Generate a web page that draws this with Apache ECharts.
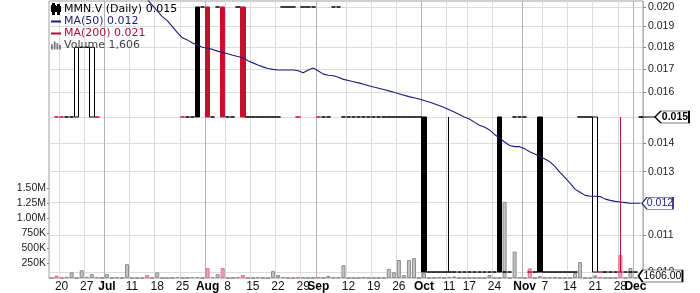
<!DOCTYPE html>
<html><head><meta charset="utf-8">
<script src="https://cdn.jsdelivr.net/npm/echarts@6/dist/echarts.min.js"></script>
<style>html,body{margin:0;padding:0;background:#fff}#c{width:700px;height:293px}</style>
</head><body><div id="c"></div>
<script>
// ---- trading days (TSX-V, 2011) ----
const startDate = '2011-06-16', endDate = '2011-12-02';
const holidays = ['2011-07-01','2011-08-01','2011-09-05','2011-10-10'];
// ---- axis labels ----
const xLabelDays = {'2011-06-20':'20','2011-06-27':'27','2011-07-04':'Jul','2011-07-11':'11','2011-07-18':'18','2011-07-25':'25',
 '2011-08-02':'Aug','2011-08-08':'8','2011-08-15':'15','2011-08-22':'22','2011-08-29':'29','2011-09-01':'Sep','2011-09-12':'12',
 '2011-09-19':'19','2011-09-26':'26','2011-10-03':'Oct','2011-10-11':'11','2011-10-17':'17','2011-10-24':'24','2011-11-01':'Nov',
 '2011-11-07':'7','2011-11-14':'14','2011-11-21':'21','2011-11-28':'28','2011-12-01':'Dec'};
const priceTicks = [0.010,0.011,0.012,0.013,0.014,0.015,0.016,0.017,0.018,0.019,0.020];
const volumeTicks = [250000,500000,750000,1000000,1250000,1500000];
// ---- price data (one entry per trading day) ----
const opens = [null,.015,.015,.015,.015,.015,.018,.018,.015,.015,
 .021,.021,.021,.021,.021,.021,.021,.021,.021,.021,
 .021,.021,.021,.021,.021,.021,.015,.015,.015,.020,
 .020,.020,.015,.020,.020,.015,.015,.020,.020,.015,
 .015,.015,.015,.015,.015,.015,.020,.020,.020,.015,
 .020,.020,.020,.015,.015,.015,.020,.020,.015,.015,
 .015,.015,.015,.015,.015,.015,.015,.015,.015,.015,
 .015,.015,.015,.015,.015,.010,.010,.010,.010,.010,
 .010,.010,.010,.010,.010,.010,.010,.010,.010,.015,
 .010,.010,.015,.015,.015,.010,.010,.015,.010,.010,
 .010,.010,.010,.010,.010,.015,.015,.015,.010,.010,
 .010,.010,.010,.010,.010,.010,.010,.015];
const highs = [null,.015,.015,.015,.015,.018,.018,.018,.018,.015,
 .021,.021,.021,.021,.021,.021,.021,.021,.021,.021,
 .021,.021,.021,.021,.021,.021,.015,.015,.015,.020,
 .020,.020,.015,.020,.020,.015,.015,.020,.020,.015,
 .015,.015,.015,.015,.015,.015,.020,.020,.020,.015,
 .020,.020,.020,.015,.015,.015,.020,.020,.015,.015,
 .015,.015,.015,.015,.015,.015,.015,.015,.015,.015,
 .015,.015,.015,.015,.015,.010,.010,.010,.010,.015,
 .010,.010,.010,.010,.010,.010,.010,.010,.010,.015,
 .010,.010,.015,.015,.015,.010,.010,.015,.010,.010,
 .010,.010,.010,.010,.010,.015,.015,.015,.015,.010,
 .010,.010,.010,.015,.010,.010,.010,.015];
const lows = [null,.015,.015,.015,.015,.015,.018,.018,.015,.015,
 .021,.021,.021,.021,.021,.021,.021,.021,.021,.021,
 .021,.021,.021,.021,.021,.021,.015,.015,.015,.015,
 .020,.015,.015,.020,.015,.015,.015,.020,.015,.015,
 .015,.015,.015,.015,.015,.015,.020,.020,.020,.015,
 .020,.020,.020,.015,.015,.015,.020,.020,.015,.015,
 .015,.015,.015,.015,.015,.015,.015,.015,.015,.015,
 .015,.015,.015,.015,.010,.010,.010,.010,.010,.010,
 .010,.010,.010,.010,.010,.010,.010,.010,.010,.010,
 .010,.010,.015,.015,.015,.010,.010,.010,.010,.010,
 .010,.010,.010,.010,.010,.015,.015,.015,.010,.010,
 .010,.010,.010,.010,.010,.010,.010,.015];
const closes = [null,.015,.015,.015,.015,.018,.018,.018,.018,.015,
 .021,.021,.021,.021,.021,.021,.021,.021,.021,.021,
 .021,.021,.021,.021,.021,.021,.015,.015,.015,.015,
 .020,.015,.015,.020,.015,.015,.015,.020,.015,.015,
 .015,.015,.015,.015,.015,.015,.020,.020,.020,.015,
 .020,.020,.020,.015,.015,.015,.020,.020,.015,.015,
 .015,.015,.015,.015,.015,.015,.015,.015,.015,.015,
 .015,.015,.015,.015,.010,.010,.010,.010,.010,.010,
 .010,.010,.010,.010,.010,.010,.010,.010,.010,.010,
 .010,.010,.015,.015,.015,.010,.010,.010,.010,.010,
 .010,.010,.010,.010,.010,.015,.015,.015,.015,.010,
 .010,.010,.010,.010,.010,.010,.010,.015];
// days drawn red on the reference (close below the previous close)
const downDays = [1,2,9,19,26,31,34,38,49,53,95,109,113];
const volumes = [0,40000,0,20000,95000,0,130000,20000,65000,12000,
 0,65000,0,10000,0,230000,0,0,0,50000,
 0,95000,0,0,0,15000,0,0,15000,15000,
 0,165000,15000,65000,165000,0,0,12000,50000,0,
 0,10000,0,0,115000,50000,15000,0,0,6000,
 6000,0,0,8000,0,35000,8000,8000,215000,0,
 0,0,8000,0,0,0,0,150000,95000,300000,
 50000,300000,330000,0,80000,0,0,8000,0,20000,
 25000,0,0,0,0,0,0,50000,0,0,
 1270000,0,440000,8000,0,160000,0,30000,0,8000,
 8000,0,0,0,80000,265000,0,0,45000,8000,
 0,0,0,380000,0,165000,10000,1606];
const ma50 = [null,null,null,null,null,null,null,null,null,null,
 null,null,null,null,null,null,null,0.0213,0.0208,0.0204,
 0.0201,0.0198,0.0195,0.0193,0.0190,0.0187,0.01845,0.01835,0.0182,0.0181,
 0.0180,0.01795,0.0179,0.01782,0.01776,0.0177,0.01763,0.01757,0.01752,0.01738,
 0.01728,0.01718,0.0171,0.01703,0.01699,0.01696,0.01696,0.01696,0.01696,0.01693,
 0.01684,0.01696,0.01705,0.01692,0.01678,0.01673,0.01671,0.01664,0.01655,0.0165,
 0.01645,0.0164,0.01634,0.01628,0.01622,0.01617,0.01612,0.01606,0.016,0.01594,
 0.01588,0.01582,0.01577,0.01572,0.01566,0.0156,0.01553,0.01546,0.01538,0.01529,
 0.0152,0.0151,0.015,0.01492,0.0148,0.01468,0.01461,0.0145,0.01433,0.0142,
 0.01405,0.01392,0.01388,0.01388,0.0138,0.0137,0.01362,0.01353,0.01344,0.01334,
 0.01318,0.01298,0.0128,0.01262,0.01242,0.01232,0.01222,0.01219,0.01219,0.01218,
 0.0121,0.01206,0.01203,0.01201,0.01199,0.01197,0.01197,0.01197];
const ma200Last = 0.021;
const ticker = 'MMN.V (Daily)';

// ---- build ----
function tradingDays(){
  const out=[]; const d=new Date(startDate+'T12:00:00Z'); const e=new Date(endDate+'T12:00:00Z');
  while(d<=e){ const s=d.toISOString().slice(0,10); const w=d.getUTCDay();
    if(w>0&&w<6&&holidays.indexOf(s)<0) out.push(s); d.setUTCDate(d.getUTCDate()+1);} return out;
}
const dates = tradingDays();
const n = dates.length;
const BLACK='#000000', RED='#c8102e', NAVY='#1c1c78';
const candleData = dates.map((d,i)=>{
  if(closes[i]==null) return '-';
  const col = downDays.indexOf(i)>=0 ? RED : BLACK;
  const hollow = closes[i] > opens[i];
  return {value:[opens[i],closes[i],lows[i],highs[i]],
    itemStyle:{color: hollow?'#ffffff':col, color0: col, borderColor: col, borderColor0: col, borderWidth:1}};
});
const volData = volumes.map((v,i)=>{
  const dn = downDays.indexOf(i)>=0;
  return {value:v, itemStyle:{color: dn?'#f2a7b6':'#c4c4c4', borderColor: dn?'#d9708a':'#8c8c8c', borderWidth:1}};
});
const lastIdx = n-1;
const lastClose = closes[lastIdx], lastMA = ma50[lastIdx], lastVol = volumes[lastIdx];
const isMonth = s => /^[A-Z]/.test(xLabelDays[s]||'');
const logMin = Math.pow(10, -2 - 6/883.6), logMax = Math.pow(10, Math.log10(0.02) + 6/883.6);
const volMax = 4617000;
const FONT = 'Liberation Sans';
const labelTicks = priceTicks.filter(v=>Math.abs(v-lastClose)>1e-9);

const chart = echarts.init(document.getElementById('c'), null, {renderer:'canvas'});
chart.setOption({
  animation:false,
  grid:{left:49,right:57,top:1,bottom:14,show:true,borderColor:'#a0a0a0',borderWidth:1,backgroundColor:'#fff'},
  legend:{left:51,top:3,orient:'vertical',itemGap:1,itemWidth:10,itemHeight:10,padding:0,selectedMode:false,
    textStyle:{fontFamily:'DejaVu Sans',fontSize:11,lineHeight:11,padding:[0,0,0,-2]},
    formatter:function(name){
      if(name===ticker) return name+' '+lastClose.toFixed(3);
      if(name==='MA(50)') return name+' '+lastMA.toFixed(3);
      if(name==='MA(200)') return name+' '+ma200Last.toFixed(3);
      return name+' '+lastVol.toLocaleString('en-US');
    },
    data:[
      {name:ticker,icon:'path://M1,0h1v10h-1z M0,2h3v5h-3z M6,1h1v9h-1z M5,3h3v4h-3z',itemStyle:{color:'#000',borderColor:'#000'},textStyle:{color:'#000'}},
      {name:'MA(50)',icon:'path://M0,0h10v2h-10z',itemStyle:{color:NAVY},textStyle:{color:NAVY}},
      {name:'MA(200)',icon:'path://M0,0h10v2h-10z',itemStyle:{color:'#b0103a'},textStyle:{color:'#b0103a'}},
      {name:'Volume',icon:'path://M0,4h2v6h-2z M3,1h2v9h-2z M6,3h2v7h-2z M9,5h2v5h-2z',itemStyle:{color:'#777'},textStyle:{color:'#444'}}
    ]},
  xAxis:[{type:'category',data:dates,boundaryGap:true,
    axisLine:{show:false},axisTick:{show:false},
    axisLabel:{interval:(i,v)=>!!xLabelDays[v]||i===n-1,showMaxLabel:false,margin:3,fontFamily:FONT,fontSize:12,color:'#111',
      formatter:(v)=> isMonth(v)?'{b|'+xLabelDays[v]+'}':(xLabelDays[v]||' '),
      rich:{b:{fontWeight:'bold',fontFamily:FONT,fontSize:12,color:'#000'}}},
    splitLine:{show:true,interval:(i,v)=>!!xLabelDays[v]&&!isMonth(v),lineStyle:{color:'#dcdcdc',width:1}}},
   {type:'category',data:dates,boundaryGap:true,position:'bottom',
    axisLine:{show:false},axisTick:{show:false},axisLabel:{show:false},
    splitLine:{show:true,interval:(i,v)=>isMonth(v),lineStyle:{color:'#b4b4b4',width:1}}}],
  yAxis:[{type:'log',logBase:10,position:'right',min:logMin,max:logMax,
    axisLine:{show:false},
    axisTick:{show:true,length:3,customValues:priceTicks,lineStyle:{color:'#888'}},
    axisLabel:{customValues:labelTicks,margin:5,fontFamily:FONT,fontSize:10.5,color:'#222',formatter:v=>(+v).toFixed(3)},
    splitLine:{show:true,lineStyle:{color:'#dcdcdc'}}},
   {type:'value',position:'left',min:0,max:volMax,
    axisLine:{show:false},
    axisTick:{show:true,length:2,customValues:volumeTicks,lineStyle:{color:'#888'}},
    axisLabel:{customValues:volumeTicks,margin:3,fontFamily:FONT,fontSize:10.5,color:'#222',
      formatter:v=> v>=1000000?(v/1000000).toFixed(2)+'M':(v/1000)+'K'},
    splitLine:{show:false}}],
  series:[
    {name:'Volume',type:'bar',xAxisIndex:0,yAxisIndex:1,data:volData,barWidth:4,z:1,
      itemStyle:{color:'#c4c4c4'},
      markPoint:{symbol:'path://M0,6L4,0H44V12H4Z',symbolSize:[44,12],symbolKeepAspect:false,symbolOffset:[20,-2],silent:true,
        itemStyle:{color:'#fff',borderColor:'#000',borderWidth:1},
        label:{show:true,position:'inside',offset:[2,0],fontFamily:FONT,fontSize:10.5,color:'#000',formatter:()=>lastVol.toFixed(2)},
        data:[{coord:[lastIdx,lastVol]}]}},
    {name:ticker,type:'candlestick',xAxisIndex:0,yAxisIndex:0,data:candleData,barWidth:5,z:3,
      itemStyle:{color:'#000',color0:'#000',borderColor:'#000',borderColor0:'#000'},
      markPoint:{symbol:'path://M0,5.5H13V6.5H0Z M13,6L19,0H47V12H19Z',symbolSize:[47,12],symbolKeepAspect:false,symbolOffset:[25,0],silent:true,
        itemStyle:{color:'#fff',borderColor:'#000',borderWidth:1},
        label:{show:true,position:'inside',offset:[9.5,0],fontFamily:FONT,fontSize:10.5,fontWeight:'bold',color:'#000',formatter:()=>lastClose.toFixed(3)},
        data:[{coord:[lastIdx,lastClose]}]}},
    {name:'MA(50)',type:'line',xAxisIndex:0,yAxisIndex:0,data:ma50,showSymbol:false,symbol:'none',z:4,
      lineStyle:{color:NAVY,width:1.1},itemStyle:{color:NAVY},
      markPoint:{symbol:'path://M0,6L5,0H31V12H5Z',symbolSize:[31,12],symbolKeepAspect:false,symbolOffset:[17,0],silent:true,
        itemStyle:{color:'#fff',borderColor:NAVY,borderWidth:1},
        label:{show:true,position:'inside',offset:[2.5,0],fontFamily:FONT,fontSize:10.5,color:NAVY,formatter:()=>lastMA.toFixed(3)},
        data:[{coord:[lastIdx,lastMA]}]}},
    {name:'MA(200)',type:'line',xAxisIndex:0,yAxisIndex:0,data:dates.map((d,i)=>i===lastIdx?ma200Last:null),showSymbol:false,symbol:'none',z:4,
      lineStyle:{color:'#b0103a',width:1},itemStyle:{color:'#b0103a'}}
  ]
});
</script></body></html>
